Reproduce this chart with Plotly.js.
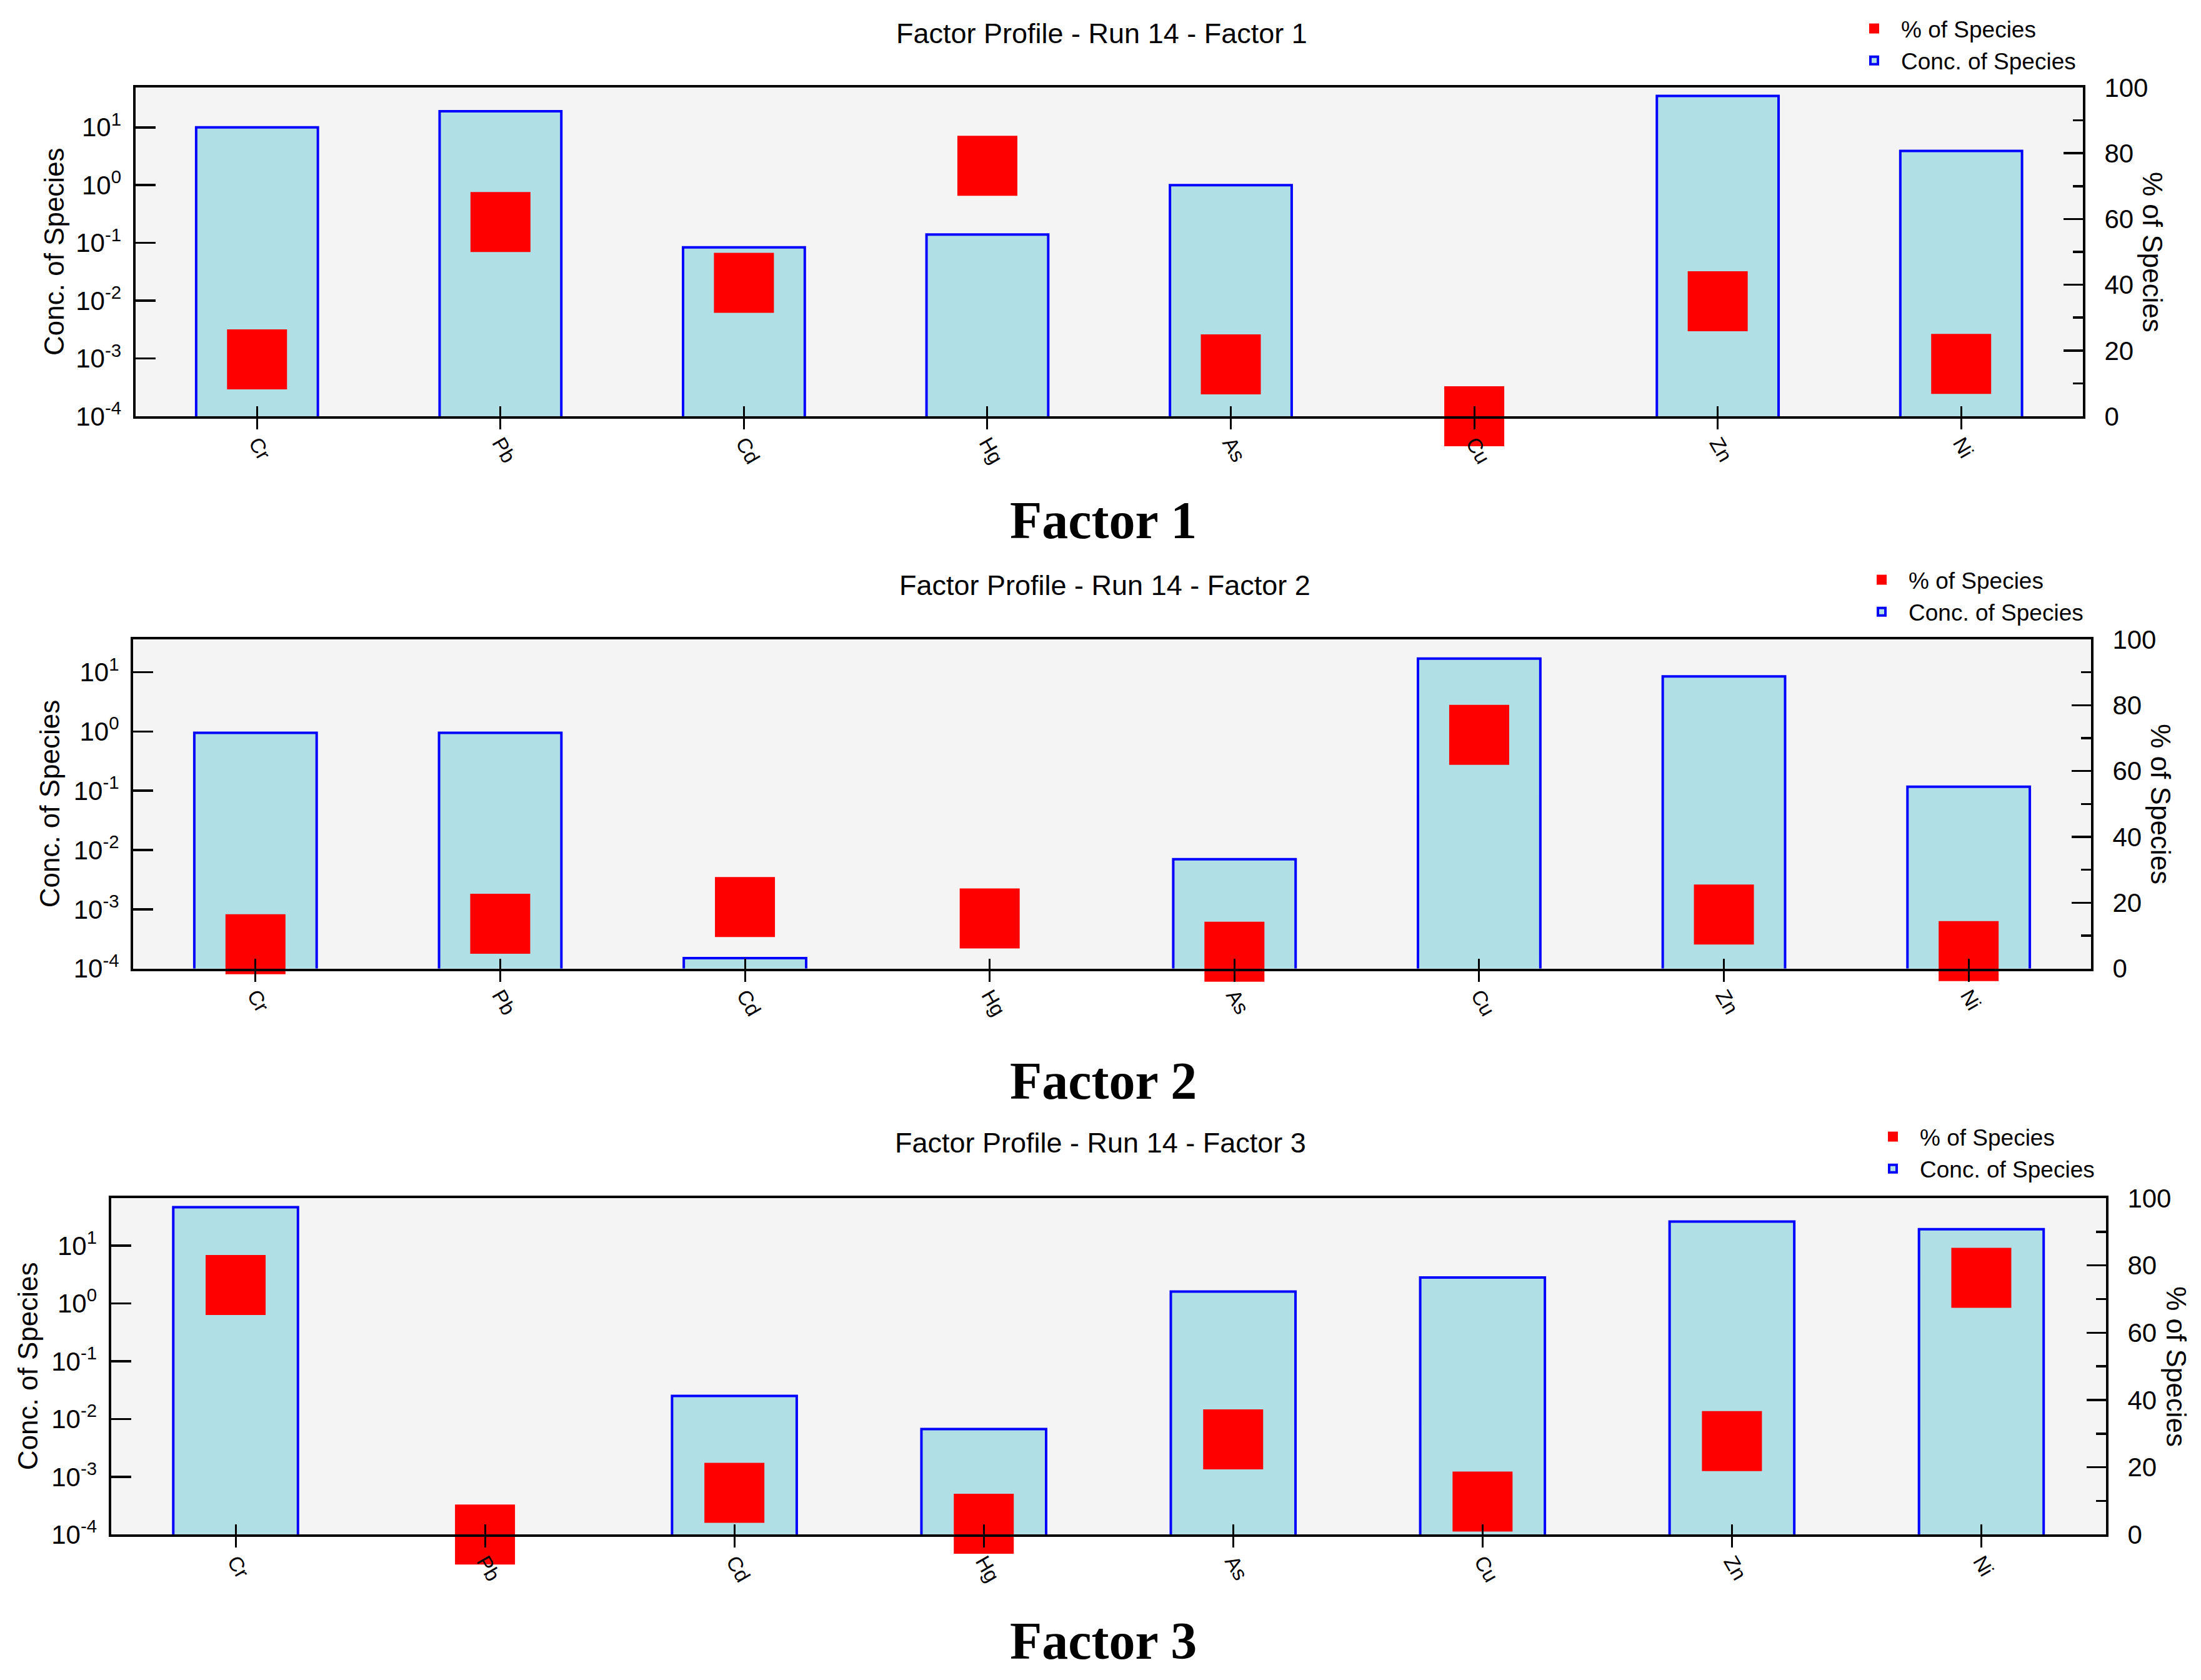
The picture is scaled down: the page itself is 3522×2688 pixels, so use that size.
<!DOCTYPE html>
<html>
<head>
<meta charset="utf-8">
<script src="https://cdn.plot.ly/plotly-3.0.1.min.js"></script>
<style>html,body{margin:0;padding:0;background:#fff;}#chart{width:3522px;height:2688px;}</style>
</head>
<body>
<div id="chart"></div>
<script>
// ---- data ----
const species = ['Cr', 'Pb', 'Cd', 'Hg', 'As', 'Cu', 'Zn', 'Ni'];

const concFactor1 = [10.0, 19, 0.084, 0.14, 1.0, null, 35, 3.9];
const pctFactor1  = [17.3, 59.1, 40.6, 76.2, 15.8, 0, 35.0, 15.9];

const concFactor2 = [0.95, 0.95, 0.00015, null, 0.0070, 17, 8.5, 0.117];
const pctFactor2  = [7.4, 13.6, 18.7, 15.2, 5.1, 71.0, 16.4, 5.3];

const concFactor3 = [46, null, 0.025, 0.0067, 1.6, 2.8, 26, 19.2];
const pctFactor3  = [74.2, 0, 12.4, 3.2, 28.3, 9.8, 27.8, 76.3];

const logTickVals = [0.0001, 0.001, 0.01, 0.1, 1, 10];
const logTickText = ['10<sup>-4</sup>', '10<sup>-3</sup>', '10<sup>-2</sup>', '10<sup>-1</sup>', '10<sup>0</sup>', '10<sup>1</sup>'];

const panelTitles = ['Factor Profile - Run 14 - Factor 1', 'Factor Profile - Run 14 - Factor 2', 'Factor Profile - Run 14 - Factor 3'];
const panelLabels = ['Factor 1', 'Factor 2', 'Factor 3'];
const pctName = '% of Species';
const concName = 'Conc. of Species';

// ---- layout geometry (pixels of the 3522 x 2688 figure) ----
const W = 3522, H = 2688;
const panels = [
  {conc: concFactor1, pct: pctFactor1, left: 216.5, right: 3333, top: 140, bottom: 666, logTop: 1.69,
   titleX: 1763, titleY: 54, labelY: 832, leftTitleX: 86, rightTitleX: 3445, legendX: 2956, legendTop: 15},
  {conc: concFactor2, pct: pctFactor2, left: 213, right: 3346, top: 1023, bottom: 1549.6, logTop: 1.555,
   titleX: 1768, titleY: 936, labelY: 1729, leftTitleX: 79, rightTitleX: 3458, legendX: 2968, legendTop: 897},
  {conc: concFactor3, pct: pctFactor3, left: 177.5, right: 3370, top: 1917, bottom: 2455.3, logTop: 1.82,
   titleX: 1761, titleY: 1828, labelY: 2625, leftTitleX: 44, rightTitleX: 3483, legendX: 2986, legendTop: 1788}
];

const SANS = 'Liberation Sans, Arial, sans-serif';
const SERIF = 'Liberation Serif, Times New Roman, serif';

const data = [];
const layout = {
  width: W, height: H, autosize: false,
  margin: {l: 0, r: 0, t: 0, b: 0, pad: 0},
  paper_bgcolor: '#ffffff',
  plot_bgcolor: '#f4f4f4',
  showlegend: true,
  bargap: 0,
  annotations: []
};

panels.forEach(function (p, i) {
  const n = i + 1;
  const xb = 'x' + (2 * n - 1 === 1 ? '' : (2 * n - 1));
  const xo = 'x' + (2 * n);
  const yl = 'y' + (2 * n - 1 === 1 ? '' : (2 * n - 1));
  const yr = 'y' + (2 * n);
  const legendId = 'legend' + (n === 1 ? '' : n);
  const xDom = [p.left / W, p.right / W];
  const yDom = [1 - p.bottom / H, 1 - p.top / H];

  data.push({
    type: 'scatter', mode: 'markers', name: pctName,
    x: species, y: p.pct, xaxis: xo, yaxis: yr,
    marker: {symbol: 'square', size: 96, color: '#ff0000', line: {width: 0}},
    cliponaxis: false, legend: legendId, hoverinfo: 'x+y'
  });
  data.push({
    type: 'bar', name: concName,
    x: species, y: p.conc, xaxis: xb, yaxis: yl, width: 0.5,
    marker: {color: 'rgb(176,224,230)', line: {color: '#0000ff', width: 4}},
    legend: legendId, hoverinfo: 'x+y'
  });

  const xbKey = 'xaxis' + (xb === 'x' ? '' : xb.slice(1));
  const xoKey = 'xaxis' + xo.slice(1);
  const ylKey = 'yaxis' + (yl === 'y' ? '' : yl.slice(1));
  const yrKey = 'yaxis' + yr.slice(1);

  layout[xbKey] = {
    domain: xDom, anchor: yl, type: 'category', categoryorder: 'array', categoryarray: species,
    range: [-0.5, 7.5], fixedrange: true,
    showline: true, linecolor: '#000', linewidth: 4, mirror: true,
    ticks: 'outside', ticklen: 17, tickwidth: 3, tickcolor: '#000',
    tickangle: 60, ticklabelstandoff: -10,
    tickfont: {family: SANS, size: 33, color: '#000'},
    showgrid: false, zeroline: false
  };
  layout[xoKey] = {
    domain: xDom, anchor: yr, overlaying: xb, type: 'category', categoryorder: 'array', categoryarray: species,
    range: [-0.5, 7.5], fixedrange: true,
    showline: false, ticks: 'inside', ticklen: 16, tickwidth: 3, tickcolor: '#000',
    showticklabels: false, showgrid: false, zeroline: false
  };
  layout[ylKey] = {
    domain: yDom, anchor: xb, type: 'log', range: [-4, p.logTop], fixedrange: true,
    showline: true, linecolor: '#000', linewidth: 4,
    ticks: 'inside', ticklen: 32, tickwidth: 3.5, tickcolor: '#000',
    tickmode: 'array', tickvals: logTickVals, ticktext: logTickText,
    ticklabelstandoff: 10,
    tickfont: {family: SANS, size: 42, color: '#000'},
    showgrid: false, zeroline: false
  };
  layout[yrKey] = {
    domain: yDom, anchor: xb, overlaying: yl, side: 'right', range: [0, 100], fixedrange: true,
    showline: true, linecolor: '#000', linewidth: 4,
    tickmode: 'linear', tick0: 0, dtick: 20,
    ticks: 'inside', ticklen: 31, tickwidth: 3.5, tickcolor: '#000',
    minor: {dtick: 10, ticks: 'inside', ticklen: 16, tickwidth: 3.5, tickcolor: '#000', showgrid: false},
    ticklabelstandoff: 22,
    tickfont: {family: SANS, size: 42, color: '#000'},
    showgrid: false, zeroline: false
  };

  layout[legendId] = {
    x: p.legendX / W, xref: 'paper', xanchor: 'left',
    y: 1 - p.legendTop / H, yref: 'paper', yanchor: 'top',
    bgcolor: 'rgba(0,0,0,0)', borderwidth: 0,
    font: {family: SANS, size: 37, color: '#000'},
    itemwidth: 76, tracegroupgap: 0, traceorder: 'normal'
  };

  layout.annotations.push({
    text: panelTitles[i], xref: 'paper', yref: 'paper',
    x: p.titleX / W, y: 1 - p.titleY / H, xanchor: 'center', yanchor: 'middle',
    showarrow: false, font: {family: SANS, size: 45, color: '#000'}
  });
  layout.annotations.push({
    text: panelLabels[i], xref: 'paper', yref: 'paper',
    x: 1766 / W, y: 1 - p.labelY / H, xanchor: 'center', yanchor: 'middle',
    showarrow: false, font: {family: SERIF, size: 84, color: '#000', weight: 'bold'}
  });
  layout.annotations.push({
    text: concName, xref: 'paper', yref: 'paper', textangle: -90,
    x: p.leftTitleX / W, y: 1 - ((p.top + p.bottom) / 2) / H, xanchor: 'center', yanchor: 'middle',
    showarrow: false, font: {family: SANS, size: 44, color: '#000'}
  });
  layout.annotations.push({
    text: pctName, xref: 'paper', yref: 'paper', textangle: 90,
    x: p.rightTitleX / W, y: 1 - ((p.top + p.bottom) / 2) / H, xanchor: 'center', yanchor: 'middle',
    showarrow: false, font: {family: SANS, size: 44, color: '#000'}
  });
});

Plotly.newPlot('chart', data, layout, {staticPlot: true, displayModeBar: false});
</script>
</body>
</html>
